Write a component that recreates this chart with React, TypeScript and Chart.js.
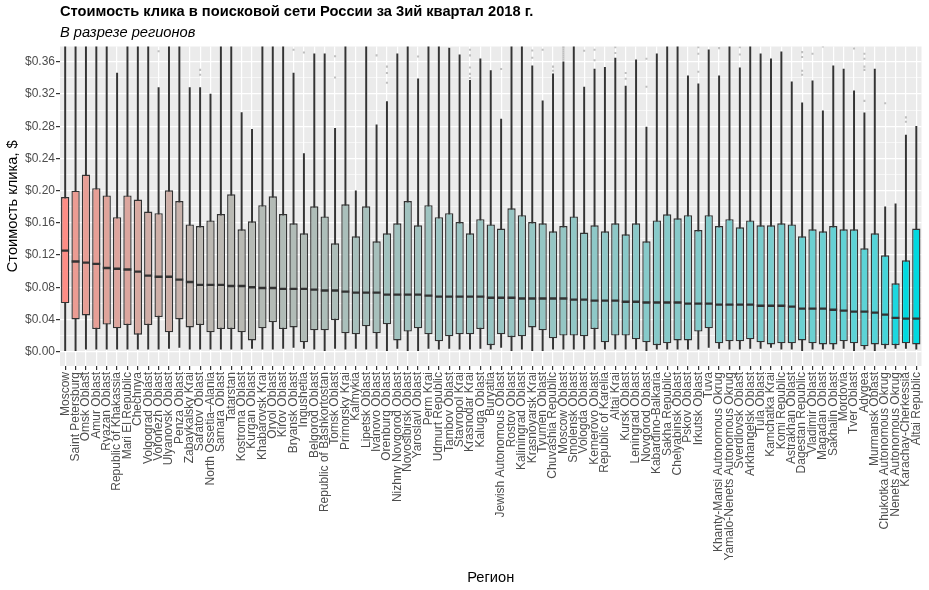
import React, { useEffect, useRef } from 'react';
import { Chart, registerables } from 'chart.js';

Chart.register(...registerables);

const regions = [
  'Moscow', 'Saint Petersburg', 'Omsk Oblast', 'Amur Oblast', 'Ryazan Oblast', 'Republic of Khakassia',
  'Mari El Republic', 'Chechnya', 'Volgograd Oblast', 'Voronezh Oblast', 'Ulyanovsk Oblast', 'Penza Oblast',
  'Zabaykalsky Krai', 'Saratov Oblast', 'North Ossetia\u2013Alania', 'Samara Oblast', 'Tatarstan', 'Kostroma Oblast',
  'Kurgan Oblast', 'Khabarovsk Krai', 'Oryol Oblast', 'Kirov Oblast', 'Bryansk Oblast', 'Ingushetia',
  'Belgorod Oblast', 'Republic of Bashkortostan', 'Tomsk Oblast', 'Primorsky Krai', 'Kalmykia', 'Lipetsk Oblast',
  'Ivanovo Oblast', 'Orenburg Oblast', 'Nizhny Novgorod Oblast', 'Novosibirsk Oblast', 'Yaroslavl Oblast', 'Perm Krai',
  'Udmurt Republic', 'Tambov Oblast', 'Stavropol Krai', 'Krasnodar Krai', 'Kaluga Oblast', 'Buryatia',
  'Jewish Autonomous Oblast', 'Rostov Oblast', 'Kaliningrad Oblast', 'Krasnoyarsk Krai', 'Tyumen Oblast', 'Chuvashia Republic',
  'Moscow Oblast', 'Smolensk Oblast', 'Vologda Oblast', 'Kemerovo Oblast', 'Republic of Karelia', 'Altai Krai',
  'Kursk Oblast', 'Leningrad Oblast', 'Novgorod Oblast', 'Kabardino-Balkaria', 'Sakha Republic', 'Chelyabinsk Oblast',
  'Pskov Oblast', 'Irkutsk Oblast', 'Tuva', 'Khanty-Mansi Autonomous Okrug', 'Yamalo-Nenets Autonomous Okrug', 'Sverdlovsk Oblast',
  'Arkhangelsk Oblast', 'Tula Oblast', 'Kamchatka Krai', 'Komi Republic', 'Astrakhan Oblast', 'Dagestan Republic',
  'Vladimir Oblast', 'Magadan Oblast', 'Sakhalin Oblast', 'Mordovia', 'Tver Oblast', 'Adygea',
  'Murmansk Oblast', 'Chukotka Autonomous Okrug', 'Nenets Autonomous Okrug', 'Karachay-Cherkessia', 'Altai Republic',
];

const q1 = [
  0.060, 0.040, 0.045, 0.028, 0.0336, 0.029, 0.033, 0.021, 0.033, 0.043, 0.024, 0.040,
  0.030, 0.033, 0.024, 0.028, 0.028, 0.024, 0.014, 0.029, 0.0365, 0.028, 0.030, 0.0116,
  0.0265, 0.0265, 0.039, 0.0228, 0.0215, 0.0315, 0.0228, 0.034, 0.014, 0.025, 0.029, 0.0215,
  0.0128, 0.019, 0.0215, 0.0215, 0.028, 0.008, 0.0215, 0.018, 0.019, 0.030, 0.0265, 0.0166,
  0.020, 0.020, 0.019, 0.028, 0.0116, 0.020, 0.020, 0.0153, 0.0116, 0.008, 0.0104, 0.014,
  0.014, 0.025, 0.029, 0.0104, 0.0128, 0.0128, 0.0153, 0.0116, 0.009, 0.0104, 0.0104, 0.014,
  0.0104, 0.009, 0.009, 0.0128, 0.0104, 0.0066, 0.009, 0.008, 0.008, 0.0104, 0.009,
];

const medians = [
  0.1255, 0.112, 0.1106, 0.109, 0.104, 0.103, 0.102, 0.0994, 0.0945, 0.093, 0.093, 0.0895,
  0.0866, 0.083, 0.083, 0.083, 0.0816, 0.0816, 0.080, 0.079, 0.079, 0.078, 0.078, 0.078,
  0.077, 0.076, 0.076, 0.0746, 0.0733, 0.0733, 0.0733, 0.0708, 0.0708, 0.0708, 0.0708, 0.0696,
  0.0683, 0.0683, 0.0683, 0.0683, 0.0683, 0.067, 0.067, 0.067, 0.066, 0.066, 0.066, 0.066,
  0.066, 0.0646, 0.0646, 0.0634, 0.0634, 0.0634, 0.062, 0.062, 0.061, 0.061, 0.061, 0.061,
  0.0597, 0.0597, 0.0597, 0.0584, 0.0584, 0.0584, 0.0584, 0.057, 0.057, 0.057, 0.056, 0.0534,
  0.0534, 0.0534, 0.052, 0.051, 0.0497, 0.0497, 0.0485, 0.046, 0.042, 0.041, 0.041,
];

const q3 = [
  0.192, 0.200, 0.220, 0.203, 0.194, 0.167, 0.194, 0.189, 0.174, 0.172, 0.2005, 0.187,
  0.158, 0.156, 0.163, 0.171, 0.1955, 0.152, 0.162, 0.182, 0.193, 0.171, 0.1595, 0.147,
  0.1806, 0.168, 0.1346, 0.183, 0.1433, 0.1806, 0.137, 0.147, 0.1595, 0.187, 0.157, 0.182,
  0.167, 0.172, 0.161, 0.147, 0.1645, 0.158, 0.153, 0.178, 0.1695, 0.161, 0.1595, 0.1495,
  0.156, 0.168, 0.148, 0.157, 0.1495, 0.1595, 0.1458, 0.1595, 0.137, 0.163, 0.1707, 0.1657,
  0.1695, 0.151, 0.1695, 0.156, 0.1645, 0.1545, 0.163, 0.157, 0.157, 0.1595, 0.158, 0.1433,
  0.152, 0.1495, 0.156, 0.152, 0.152, 0.1284, 0.147, 0.1197, 0.085, 0.1135, 0.153,
];

const whiskerLow = [
  0.0012, 0.0012, 0.003, 0.003, 0.003, 0.003, 0.003, 0.003, 0.003, 0.003, 0.004, 0.0054,
  0.003, 0.003, 0.003, 0.003, 0.003, 0.003, 0.004, 0.003, 0.003, 0.004, 0.0054, 0.004,
  0.003, 0.0012, 0.004, 0.003, 0.004, 0.003, 0.004, 0.0012, 0.004, 0.0012, 0.0012, 0.004,
  0.003, 0.004, 0.003, 0.003, 0.004, 0.003, 0.0054, 0.0012, 0.003, 0.0012, 0.0012, 0.003,
  0.003, 0.003, 0.003, 0.003, 0.003, 0.003, 0.003, 0.003, 0.0012, 0.003, 0.003, 0.003,
  0.003, 0.003, 0.0054, 0.004, 0.003, 0.003, 0.004, 0.004, 0.0054, 0.003, 0.003, 0.0012,
  0.003, 0.003, 0.003, 0.004, 0.0012, 0.003, 0.0012, 0.004, 0.004, 0.004, 0.003,
];

const whiskerHigh = [
  0.40, 0.40, 0.40, 0.40, 0.40, 0.346, 0.40, 0.40, 0.40, 0.328, 0.40, 0.40,
  0.328, 0.328, 0.320, 0.40, 0.40, 0.297, 0.276, 0.40, 0.40, 0.40, 0.346, 0.246,
  0.370, 0.370, 0.2775, 0.40, 0.1997, 0.40, 0.2817, 0.3107, 0.370, 0.40, 0.339, 0.40,
  0.40, 0.377, 0.3687, 0.337, 0.3637, 0.349, 0.289, 0.40, 0.40, 0.355, 0.3115, 0.345,
  0.360, 0.40, 0.3285, 0.351, 0.353, 0.3645, 0.330, 0.3625, 0.279, 0.370, 0.40, 0.40,
  0.3426, 0.3326, 0.375, 0.3426, 0.40, 0.3525, 0.40, 0.370, 0.3637, 0.3724, 0.335, 0.309,
  0.3364, 0.299, 0.355, 0.351, 0.324, 0.2966, 0.351, 0.180, 0.1835, 0.269, 0.280,
];

// outliers: region number (1-based position in `regions`) and value
const outlierRegion = [
  10, 14, 14, 23, 24, 27, 27, 31, 32, 32, 32, 35,
  40, 40, 40, 40, 40, 43, 46, 46, 47, 48, 48,
  49, 49, 49, 49, 49, 49, 49, 49,
  51, 52, 52, 54, 54, 55, 55, 57, 57, 62, 62, 62, 64, 66, 66,
  72, 72, 72, 72, 73, 74, 77, 78, 78, 78, 78, 78, 80, 82, 82,
];
const outlierValue = [
  0.373, 0.344, 0.350, 0.375, 0.3716, 0.367, 0.3405, 0.368, 0.354, 0.346, 0.334, 0.3666,
  0.375, 0.368, 0.353, 0.345, 0.340, 0.351, 0.374, 0.365, 0.375, 0.354, 0.349,
  0.3625, 0.365, 0.3675, 0.370, 0.3725, 0.375, 0.3775, 0.379,
  0.3737, 0.375, 0.362, 0.378, 0.371, 0.346, 0.339, 0.3637, 0.329, 0.378, 0.370, 0.3476, 0.377, 0.378, 0.369,
  0.372, 0.366, 0.349, 0.344, 0.370, 0.379, 0.3766, 0.370, 0.3637, 0.354, 0.350, 0.3115, 0.3086, 0.291, 0.2855,
];

const yMajorTicks = [0, 0.04, 0.08, 0.12, 0.16, 0.2, 0.24, 0.28, 0.32, 0.36];
const yMinorTicks = [0.02, 0.06, 0.1, 0.14, 0.18, 0.22, 0.26, 0.3, 0.34];
const yMin = -0.0178;
const yMax = 0.379;

const titleText = 'Стоимость клика в поисковой сети России за 3ий квартал 2018 г.';
const subtitleText = 'В разрезе регионов';
const yTitle = 'Стоимость клика, $';
const xTitle = 'Регион';

const lowColor = '#00D9E0';
const highColor = '#FD8D85';

const FONT = "'Liberation Sans', Arial, Helvetica, sans-serif";
const BASE = 14.67;

// --- colour helpers (Lab interpolation, like ggplot's gradient) ---
function toLin(c: number) {
  const v = c / 255;
  return v <= 0.04045 ? v / 12.92 : Math.pow((v + 0.055) / 1.055, 2.4);
}
function fromLin(c: number) {
  const v = c <= 0.0031308 ? 12.92 * c : 1.055 * Math.pow(c, 1 / 2.4) - 0.055;
  return Math.round(Math.min(1, Math.max(0, v)) * 255);
}
const Xn = 0.95047, Yn = 1.0, Zn = 1.08883;
function hexToLab(hex: string) {
  const r = toLin(parseInt(hex.slice(1, 3), 16));
  const g = toLin(parseInt(hex.slice(3, 5), 16));
  const b = toLin(parseInt(hex.slice(5, 7), 16));
  const X = (0.4124 * r + 0.3576 * g + 0.1805 * b) / Xn;
  const Y = (0.2126 * r + 0.7152 * g + 0.0722 * b) / Yn;
  const Z = (0.0193 * r + 0.1192 * g + 0.9505 * b) / Zn;
  const f = (t: number) => (t > 0.008856 ? Math.cbrt(t) : 7.787 * t + 16 / 116);
  const fx = f(X), fy = f(Y), fz = f(Z);
  return [116 * fy - 16, 500 * (fx - fy), 200 * (fy - fz)];
}
function labToHex(L: number, a: number, bb: number) {
  const fy = (L + 16) / 116;
  const fx = fy + a / 500;
  const fz = fy - bb / 200;
  const inv = (t: number) => (t * t * t > 0.008856 ? t * t * t : (t - 16 / 116) / 7.787);
  const X = Xn * inv(fx), Y = Yn * inv(fy), Z = Zn * inv(fz);
  const r = 3.2406 * X - 1.5372 * Y - 0.4986 * Z;
  const g = -0.9689 * X + 1.8758 * Y + 0.0415 * Z;
  const b = 0.0557 * X - 0.204 * Y + 1.057 * Z;
  const h = (n: number) => fromLin(n).toString(16).padStart(2, '0');
  return '#' + h(r) + h(g) + h(b);
}
function gradient(values: number[]) {
  const lo = Math.min(...values), hi = Math.max(...values);
  const A = hexToLab(lowColor), B = hexToLab(highColor);
  return values.map((v) => {
    const t = (v - lo) / (hi - lo);
    return labToHex(A[0] + (B[0] - A[0]) * t, A[1] + (B[1] - A[1]) * t, A[2] + (B[2] - A[2]) * t);
  });
}

const isMajor = (v: number) => yMajorTicks.some((m) => Math.abs(m - v) < 1e-9);

const panelBackground = {
  id: 'panelBackground',
  beforeDraw(chart: any) {
    const { ctx, chartArea } = chart;
    ctx.save();
    ctx.fillStyle = '#FFFFFF';
    ctx.fillRect(0, 0, chart.width, chart.height);
    ctx.fillStyle = '#EBEBEB';
    ctx.fillRect(chartArea.left, chartArea.top, chartArea.right - chartArea.left, chartArea.bottom - chartArea.top);
    ctx.restore();
  },
};

export default function App() {
  const canvasRef = useRef<HTMLCanvasElement | null>(null);

  useEffect(() => {
    if (!canvasRef.current) return;
    const fills = gradient(medians);
    const allTicks = [...yMajorTicks, ...yMinorTicks].sort((a, b) => a - b);

    const chart = new Chart(canvasRef.current, {
      type: 'bar',
      data: {
        labels: regions,
        datasets: [
          {
            type: 'line',
            label: 'median',
            data: medians,
            showLine: false,
            pointStyle: 'line',
            pointRadius: 3.9,
            pointHoverRadius: 3.9,
            pointBorderWidth: 2.4,
            pointBorderColor: '#333333',
            borderColor: '#333333',
            order: 0,
          } as any,
          {
            type: 'line',
            label: 'outliers',
            data: outlierRegion.map((r, i) => ({ x: regions[r - 1], y: outlierValue[i] })),
            showLine: false,
            pointStyle: 'rect',
            pointRadius: 1.45,
            pointHoverRadius: 1.45,
            pointBackgroundColor: '#BFBFBF',
            pointBorderWidth: 0,
            order: 1,
          } as any,
          {
            type: 'bar',
            label: 'box',
            data: q1.map((v, i) => [v, q3[i]]),
            backgroundColor: fills,
            borderColor: '#333333',
            borderWidth: 1.4,
            borderSkipped: false,
            grouped: false,
            barPercentage: 0.8,
            categoryPercentage: 1,
            order: 2,
          } as any,
          {
            type: 'bar',
            label: 'whisker',
            data: whiskerLow.map((v, i) => [v, whiskerHigh[i]]),
            backgroundColor: '#333333',
            borderWidth: 0,
            barThickness: 1.3,
            grouped: false,
            clip: 0,
            order: 3,
          } as any,
        ],
      },
      options: {
        responsive: false,
        animation: false,
        layout: { padding: { left: 0, right: 7.5, top: 0, bottom: 0 } },
        plugins: {
          legend: { display: false },
          tooltip: { enabled: false },
          title: {
            display: true,
            text: titleText,
            align: 'start',
            fullSize: false,
            color: '#000000',
            font: { family: FONT, size: BASE, weight: 'bold' },
            padding: { top: 2.9, bottom: 1.7 },
          },
          subtitle: {
            display: true,
            text: subtitleText,
            align: 'start',
            fullSize: false,
            color: '#000000',
            font: { family: FONT, size: BASE, style: 'italic' },
            padding: { top: 1.7, bottom: 5.0 },
          },
        },
        scales: {
          x: {
            type: 'category',
            offset: true,
            afterFit: (scale: any) => {
              scale.height = 224;
              scale.paddingLeft = 0;
              scale.paddingRight = 0;
            },
            grid: { offset: false, color: '#FFFFFF', lineWidth: 1.2, tickColor: '#333333', tickLength: 4, drawTicks: true },
            border: { display: false },
            ticks: {
              autoSkip: false,
              maxRotation: 90,
              minRotation: 90,
              color: '#4D4D4D',
              font: { family: FONT, size: 12 },
              padding: 2,
            },
            title: {
              display: true,
              text: xTitle,
              color: '#000000',
              font: { family: FONT, size: BASE },
              padding: { top: 4, bottom: 3.2 },
            },
          },
          y: {
            type: 'linear',
            min: yMin,
            max: yMax,
            afterBuildTicks: (scale: any) => {
              scale.ticks = allTicks.map((v) => ({ value: v }));
            },
            afterFit: (scale: any) => {
              scale.width = 60;
              scale.paddingTop = 0;
              scale.paddingBottom = 0;
            },
            grid: {
              color: '#FFFFFF',
              lineWidth: (ctx: any) => (ctx.tick && isMajor(ctx.tick.value) ? 1.2 : 0.6),
              tickColor: (ctx: any) => (ctx.tick && isMajor(ctx.tick.value) ? '#333333' : 'rgba(0,0,0,0)'),
              tickLength: 4,
              drawTicks: true,
            },
            border: { display: false },
            ticks: {
              color: '#4D4D4D',
              font: { family: FONT, size: 12 },
              padding: 1,
              callback: (v: any) => (isMajor(Number(v)) ? '$' + Number(v).toFixed(2) : ''),
            },
            title: {
              display: true,
              text: yTitle,
              color: '#000000',
              font: { family: FONT, size: BASE },
              padding: { top: 3.7, bottom: 3 },
            },
          },
        },
      },
      plugins: [panelBackground],
    });

    return () => chart.destroy();
  }, []);

  return (
    <div style={{ position: 'absolute', left: 0, top: 0, width: 929, height: 590, background: '#FFFFFF' }}>
      <canvas ref={canvasRef} width={929} height={590} />
    </div>
  );
}
